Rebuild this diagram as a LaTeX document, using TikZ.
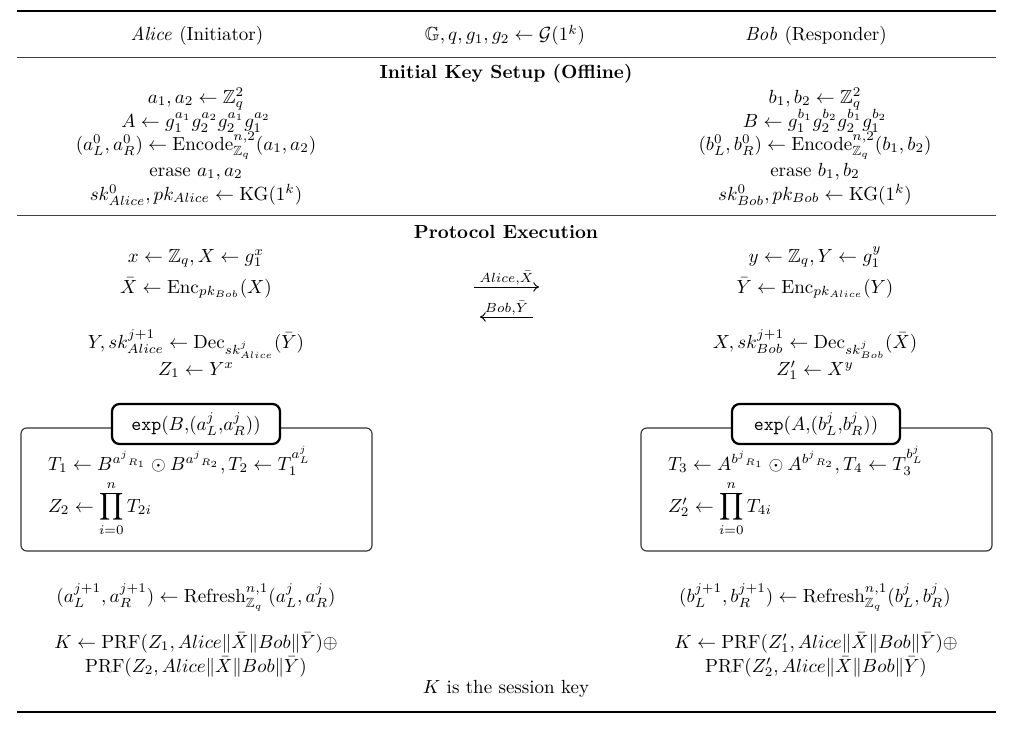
\documentclass[tikz,border=0pt]{standalone}
\usepackage{amsmath,amssymb}
\usetikzlibrary{arrows.meta}
\begin{document}
\begin{tikzpicture}[x=0.5263pt,y=-0.5263pt,
  txt/.style={anchor=base,inner sep=0pt,outer sep=0pt},
  ltxt/.style={anchor=base west,inner sep=0pt,outer sep=0pt},
  heavyrule/.style={line width=1.5pt,black},
  lightrule/.style={line width=0.5pt,black!75},
  msg/.style={-{To[length=3pt,width=5pt]},line width=0.5pt},
  outerbox/.style={draw=black!80,line width=0.6pt,rounded corners=3pt,minimum width=351*0.5263pt,minimum height=123*0.5263pt,inner sep=0pt},
  titlebox/.style={draw=black,line width=1.2pt,rounded corners=4pt,fill=white,minimum width=168*0.5263pt,minimum height=40*0.5263pt,inner sep=2pt}]
\useasboundingbox (0,0) rectangle (1024,733);
% rules
\coordinate (r1l) at (17,11); \coordinate (r1r) at (996,11);
\coordinate (r2l) at (17,57); \coordinate (r2r) at (996,57);
\coordinate (r3l) at (17,215); \coordinate (r3r) at (996,215);
\coordinate (r4l) at (17,712); \coordinate (r4r) at (996,712);
\draw[heavyrule] (r1l) -- (r1r);
\draw[lightrule] (r2l) -- (r2r);
\draw[lightrule] (r3l) -- (r3r);
\draw[heavyrule] (r4l) -- (r4r);
% header
\node[txt] (hA) at (197,41) {$\mathit{Alice}$ (Initiator)};
\node[txt] (hG) at (505,41) {$\mathbb{G}, q, g_1, g_2 \leftarrow \mathcal{G}(1^k)$};
\node[txt] (hB) at (816,41) {$\mathit{Bob}$ (Responder)};
% initial setup
\node[txt] (s0) at (506,79) {\textbf{Initial Key Setup (Offline)}};
\node[txt] (a1) at (196,103) {$a_1, a_2 \leftarrow \mathbb{Z}_q^2$};
\node[txt] (a2) at (196,127) {$A \leftarrow g_1^{a_1} g_2^{a_2} g_2^{a_1} g_1^{a_2}$};
\node[txt] (a3) at (196,150) {$(a_L^0, a_R^0) \leftarrow \mathrm{Encode}_{\mathbb{Z}_q}^{n,2}(a_1, a_2)$};
\node[txt] (a4) at (196,176) {erase $a_1, a_2$};
\node[txt] (a5) at (196,200) {$sk_{Alice}^0, pk_{Alice} \leftarrow \mathrm{KG}(1^k)$};
\node[txt] (b1) at (815,103) {$b_1, b_2 \leftarrow \mathbb{Z}_q^2$};
\node[txt] (b2) at (815,127) {$B \leftarrow g_1^{b_1} g_2^{b_2} g_2^{b_1} g_1^{b_2}$};
\node[txt] (b3) at (815,150) {$(b_L^0, b_R^0) \leftarrow \mathrm{Encode}_{\mathbb{Z}_q}^{n,2}(b_1, b_2)$};
\node[txt] (b4) at (815,176) {erase $b_1, b_2$};
\node[txt] (b5) at (815,200) {$sk_{Bob}^0, pk_{Bob} \leftarrow \mathrm{KG}(1^k)$};
% protocol execution
\node[txt] (p0) at (506,238) {\textbf{Protocol Execution}};
\node[txt] (x1) at (196,262) {$x \leftarrow \mathbb{Z}_q, X \leftarrow g_1^x$};
\node[txt] (x2) at (196,293) {$\bar{X} \leftarrow \mathrm{Enc}_{pk_{Bob}}(X)$};
\node[txt] (x3) at (196,348) {$Y, sk_{Alice}^{j+1} \leftarrow \mathrm{Dec}_{sk_{Alice}^j}(\bar{Y})$};
\node[txt] (x4) at (196,375) {$Z_1 \leftarrow Y^x$};
\node[txt] (y1) at (815,262) {$y \leftarrow \mathbb{Z}_q, Y \leftarrow g_1^y$};
\node[txt] (y2) at (815,293) {$\bar{Y} \leftarrow \mathrm{Enc}_{pk_{Alice}}(Y)$};
\node[txt] (y3) at (815,348) {$X, sk_{Bob}^{j+1} \leftarrow \mathrm{Dec}_{sk_{Bob}^j}(\bar{X})$};
\node[txt] (y4) at (815,375) {$Z_1' \leftarrow X^y$};
% messages
\coordinate (m1s) at (474,287); \coordinate (m1e) at (539,287);
\coordinate (m2s) at (533,317); \coordinate (m2e) at (480,317);
\draw[msg] (m1s) -- node[above=1pt,inner sep=0pt] (m1l) {$\scriptstyle Alice,\bar{X}$} (m1e);
\draw[msg] (m2s) -- node[above=1pt,inner sep=0pt] (m2l) {$\scriptstyle Bob,\bar{Y}$} (m2e);
% exp boxes
\node[outerbox] (boxA) at (196.5,489.5) {};
\node[titlebox] (tA) at (196,424) {\texttt{exp}$(B{,}(a_L^j{,}a_R^j))$};
\node[ltxt] (eA1) at (48,470) {$T_1 \leftarrow B^{{a^j}_{R_1}} \odot B^{{a^j}_{R_2}}, T_2 \leftarrow T_1^{a_L^j}$};
\node[ltxt] (eA2) at (48,512) {$Z_2 \leftarrow \displaystyle\prod_{i=0}^{n} T_{2i}$};
\node[outerbox] (boxB) at (816.5,489.5) {};
\node[titlebox] (tB) at (816,424) {\texttt{exp}$(A{,}(b_L^j{,}b_R^j))$};
\node[ltxt] (eB1) at (668,470) {$T_3 \leftarrow A^{{b^j}_{R_1}} \odot A^{{b^j}_{R_2}}, T_4 \leftarrow T_3^{b_L^j}$};
\node[ltxt] (eB2) at (668,512) {$Z_2' \leftarrow \displaystyle\prod_{i=0}^{n} T_{4i}$};
% refresh
\node[txt] (rA) at (196,602) {$(a_L^{j+1}, a_R^{j+1}) \leftarrow \mathrm{Refresh}_{\mathbb{Z}_q}^{n,1}(a_L^j, a_R^j)$};
\node[txt] (rB) at (815,602) {$(b_L^{j+1}, b_R^{j+1}) \leftarrow \mathrm{Refresh}_{\mathbb{Z}_q}^{n,1}(b_L^j, b_R^j)$};
% keys
\node[txt] (kA1) at (196,648) {$K \leftarrow \mathrm{PRF}(Z_1, Alice\|\bar{X}\|Bob\|\bar{Y})\oplus$};
\node[txt] (kA2) at (196,672) {$\mathrm{PRF}(Z_2, Alice\|\bar{X}\|Bob\|\bar{Y})$};
\node[txt] (kB1) at (816,648) {$K \leftarrow \mathrm{PRF}(Z_1', Alice\|\bar{X}\|Bob\|\bar{Y})\oplus$};
\node[txt] (kB2) at (816,672) {$\mathrm{PRF}(Z_2', Alice\|\bar{X}\|Bob\|\bar{Y})$};
\node[txt] (kk) at (506,693) {$K$ is the session key};
\end{tikzpicture}
\end{document}
